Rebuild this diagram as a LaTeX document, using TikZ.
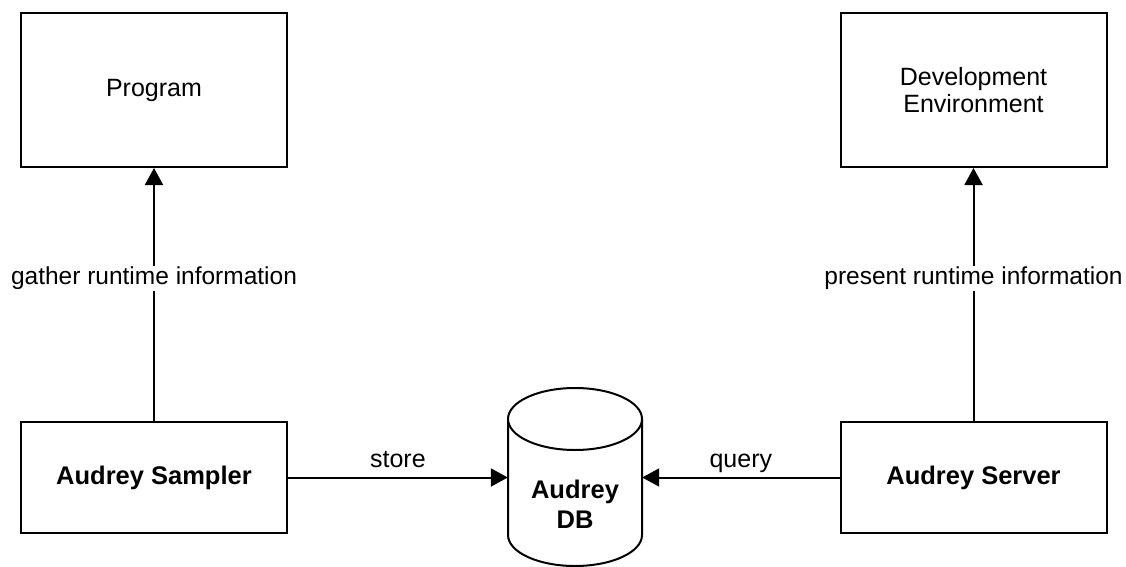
\documentclass[tikz,border=0pt]{standalone}
\usepackage{fontspec}
\setmainfont{Liberation Sans}
\usetikzlibrary{arrows.meta}
\begin{document}
\begin{tikzpicture}[x=1pt,y=1pt,
  box/.style={draw=black, line width=2pt, fill=white, minimum width=266pt, inner sep=0pt, align=center,
    font=\fontsize{25}{27}\selectfont},
  topbox/.style={box, minimum height=154pt},
  botbox/.style={box, minimum height=111pt, font=\fontsize{25.5}{27}\selectfont\bfseries},
  arr/.style={line width=2pt, -{Triangle[length=17pt,width=18pt]}},
  lbl/.style={font=\fontsize{24.5}{27}\selectfont, fill=white, inner sep=1pt},
  elbl/.style={font=\fontsize{25}{27}\selectfont, inner sep=0pt, anchor=base, yshift=10.5pt},
  cyl/.style={draw=black, line width=2pt, fill=white}]
\useasboundingbox (0,0) rectangle (1126,566);
% boxes
\node[topbox] (prog) at (154,476) {Program};
\node[topbox] (dev) at (973.5,476) {Development\\Environment};
\node[botbox] (samp) at (154,88.5) {Audrey Sampler};
\node[botbox] (serv) at (973.5,88.5) {Audrey Server};
% database cylinder
\fill[white] (508,147) -- (508,31) arc[start angle=180, end angle=360, x radius=67, y radius=31] -- (642,147) -- cycle;
\draw[cyl] (508,147) -- (508,31) arc[start angle=180, end angle=360, x radius=67, y radius=31] -- (642,147);
\draw[cyl] (575,147) ellipse [x radius=67, y radius=31];
\node[minimum width=134pt, minimum height=116pt, inner sep=0pt] (db) at (575,88.5) {};
\node[font=\fontsize{25.5}{30}\selectfont\bfseries, align=center, inner sep=0pt] (dblabel) at (575,62) {Audrey\\DB};
% connectors
\draw[arr] (samp.north) -- node[lbl, pos=0.563] {gather runtime information} (prog.south);
\draw[arr] (serv.north) -- node[lbl, pos=0.563] {present runtime information} (dev.south);
\draw[arr] (samp.east) -- node[elbl, midway] {store} (db.west);
\draw[arr] (serv.west) -- node[elbl, midway] {query} (db.east);
\end{tikzpicture}
\end{document}
